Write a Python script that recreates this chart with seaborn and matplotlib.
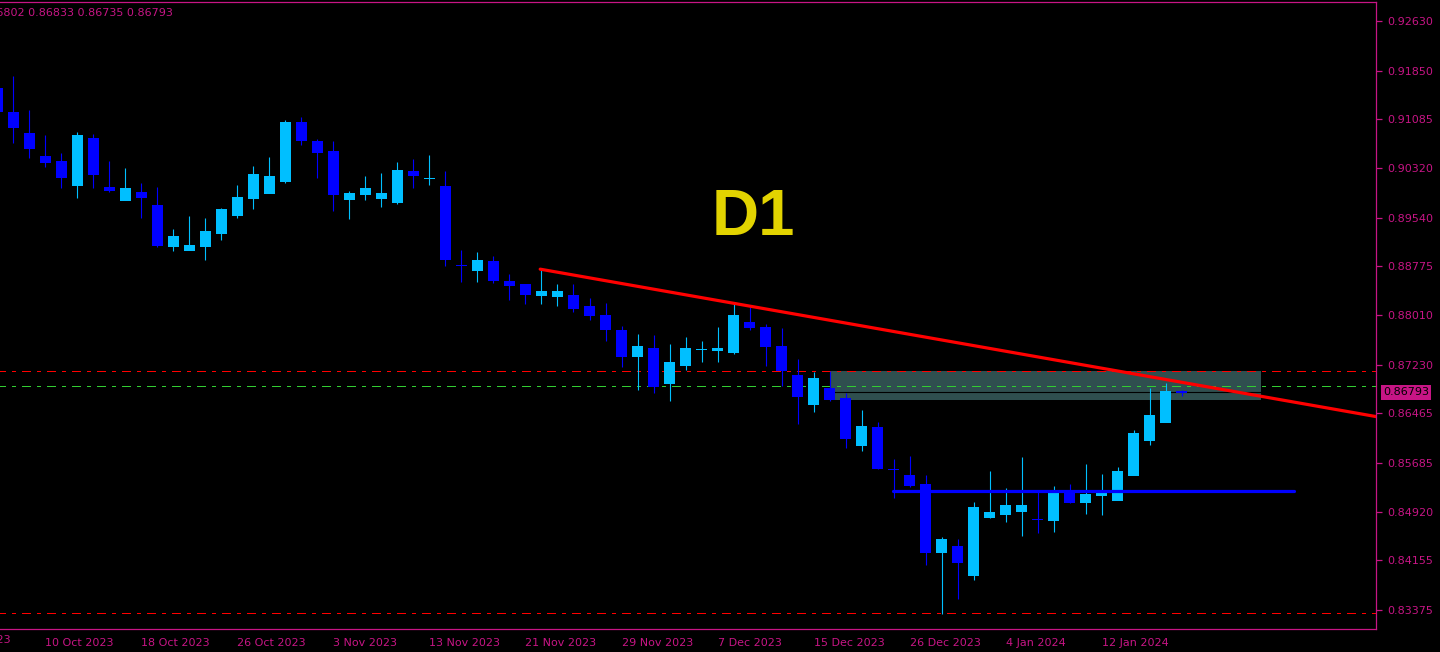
import numpy as np
import pandas as pd
import seaborn as sns
import matplotlib.pyplot as plt
import matplotlib.transforms as mtransforms
from matplotlib.patches import Rectangle

# EURGBP daily candles, 5 Oct 2023 - 19 Jan 2024 (no bars on 25 Dec / 1 Jan)
opens = [0.91574, 0.91196, 0.90866, 0.90505, 0.90426, 0.90049, 0.90788, 0.90017, 0.89813, 0.89939,
         0.89734, 0.89090, 0.89027, 0.89090, 0.89294, 0.89577, 0.89844, 0.89923, 0.90112, 0.91039,
         0.90741, 0.90583, 0.89829, 0.89907, 0.89844, 0.89782, 0.90269, 0.90155, 0.90033, 0.88791,
         0.88713, 0.88854, 0.88540, 0.88493, 0.88320, 0.88304, 0.88320, 0.88147, 0.88005, 0.87769,
         0.87361, 0.87486, 0.86936, 0.87219, 0.87466, 0.87455, 0.87424, 0.87895, 0.87817, 0.87518,
         0.87062, 0.86606, 0.86858, 0.86700, 0.85962, 0.86245, 0.85588, 0.85490, 0.85349, 0.84280,
         0.84374, 0.83918, 0.84830, 0.84877, 0.84924, 0.84796, 0.84783, 0.85239, 0.85066, 0.85176,
         0.85097, 0.85490, 0.86040, 0.86323, 0.86802]
highs = [0.91699, 0.91762, 0.91228, 0.90835, 0.90552, 0.90882, 0.90851, 0.90426, 0.90316, 0.90080,
         0.90017, 0.89357, 0.89562, 0.89530, 0.89687, 0.90049, 0.90348, 0.90489, 0.91071, 0.91118,
         0.90772, 0.90741, 0.89955, 0.90190, 0.90237, 0.90410, 0.90458, 0.90520, 0.90269, 0.89027,
         0.88996, 0.88933, 0.88650, 0.88493, 0.88713, 0.88493, 0.88493, 0.88272, 0.88194, 0.87832,
         0.87707, 0.87691, 0.87549, 0.87659, 0.87597, 0.87817, 0.88178, 0.88131, 0.87864, 0.87801,
         0.87314, 0.87109, 0.87125, 0.86779, 0.86512, 0.86323, 0.85742, 0.85789, 0.85490, 0.84515,
         0.84484, 0.85066, 0.85553, 0.85286, 0.85773, 0.85223, 0.85317, 0.85349, 0.85663, 0.85506,
         0.85616, 0.86197, 0.86858, 0.86936, 0.86833]
lows = [0.91149, 0.90709, 0.90473, 0.90332, 0.90002, 0.89844, 0.90002, 0.89939, 0.89813, 0.89530,
        0.89074, 0.89011, 0.89027, 0.88870, 0.89184, 0.89530, 0.89671, 0.89923, 0.90080, 0.90678,
        0.90159, 0.89640, 0.89514, 0.89813, 0.89703, 0.89750, 0.90002, 0.90049, 0.88776, 0.88524,
        0.88524, 0.88508, 0.88241, 0.88178, 0.88178, 0.88147, 0.88052, 0.87927, 0.87597, 0.87188,
        0.86826, 0.86779, 0.86653, 0.87141, 0.87266, 0.87266, 0.87392, 0.87769, 0.87204, 0.86889,
        0.86292, 0.86480, 0.86653, 0.85914, 0.85867, 0.85584, 0.85128, 0.85301, 0.84075, 0.83305,
        0.83541, 0.83839, 0.84814, 0.84751, 0.84531, 0.84578, 0.84594, 0.85050, 0.84877, 0.84861,
        0.85097, 0.85490, 0.85962, 0.86323, 0.86735]
closes = [0.91212, 0.90961, 0.90630, 0.90410, 0.90175, 0.90835, 0.90222, 0.89970, 0.90002, 0.89860,
          0.89106, 0.89247, 0.89106, 0.89326, 0.89671, 0.89860, 0.90222, 0.90190, 0.91039, 0.90756,
          0.90568, 0.89907, 0.89923, 0.90002, 0.89923, 0.90285, 0.90206, 0.90158, 0.88886, 0.88788,
          0.88870, 0.88555, 0.88477, 0.88335, 0.88383, 0.88383, 0.88115, 0.88005, 0.87785, 0.87361,
          0.87518, 0.86889, 0.87266, 0.87486, 0.87469, 0.87486, 0.88005, 0.87817, 0.87518, 0.87141,
          0.86732, 0.87015, 0.86685, 0.86072, 0.86260, 0.85600, 0.85585, 0.85333, 0.84280, 0.84484,
          0.84122, 0.84987, 0.84908, 0.85018, 0.85018, 0.84793, 0.85207, 0.85066, 0.85191, 0.85254,
          0.85553, 0.86150, 0.86433, 0.86802, 0.86793]

price_ticks = [0.92630, 0.91850, 0.91085, 0.90320, 0.89540, 0.88775, 0.88010,
               0.87230, 0.86465, 0.85685, 0.84920, 0.84155, 0.83375]

# drawn objects on the chart
zone_top, zone_bottom = 0.87136, 0.86674
zone_bars = (52.04, 78.98)
resist_level = 0.87136
green_level = 0.86900
low_level = 0.83321
support_level = 0.85239
support_bars = (55.98, 81.04)
trend_x = [33.92, 86.2]
trend_y = [0.88730, 0.86410]

dates = pd.bdate_range("2023-10-05", "2024-01-19")
dates = dates[~dates.isin(pd.to_datetime(["2023-12-25", "2024-01-01"]))]

pink = "#C71585"
bull, bear = "#00BFFF", "#0000FF"

sns.set_theme(style="dark", rc={"axes.facecolor": "black", "figure.facecolor": "black",
                                "axes.grid": False})
plt.rcParams["font.family"] = ["DejaVu Sans"]

fig = plt.figure(figsize=(14.4, 6.52), dpi=100)
ax = fig.add_axes([0, 0.0357, 0.9559, 0.9608])

x = np.arange(len(opens))
o, h, l, c = map(np.array, (opens, highs, lows, closes))
cols = [bull if cc > oo else bear for oo, cc in zip(o, c)]

# zone rectangle sits behind everything
ax.add_patch(Rectangle((zone_bars[0], zone_bottom), zone_bars[1] - zone_bars[0],
                       zone_top - zone_bottom, color="#2F4F4F", lw=0, zorder=1))
ax.plot(zone_bars, [closes[-1]] * 2, color="black", lw=0.8, zorder=1.5)

# MT4 style dash-dot levels, 1px wide: dash 9, gap 6, dot 3, gap 6 (px)
dd = (3, (9, 6, 3, 6))
for lvl, col in [(resist_level, "#FF0000"), (green_level, "#32CD32"), (low_level, "#FF0000")]:
    ax.axhline(lvl, color=col, lw=0.72, ls=dd, antialiased=False, zorder=2)

# candles
ax.vlines(x, l, h, colors=cols, lw=0.8, zorder=3)
body = np.abs(c - o) + 0.00016
ax.bar(x, body, bottom=np.minimum(o, c) - 0.00008, width=0.69, color=cols, lw=0, zorder=3)

ax.plot(support_bars, [support_level] * 2, color="#0000FF", lw=2.3, zorder=4)
trend = pd.DataFrame({"bar": trend_x, "price": trend_y})
sns.lineplot(data=trend, x="bar", y="price", color="#FF0000", lw=2.3, ax=ax, zorder=5)

ax.set_xlim(0.169, 86.17)
ax.set_ylim(0.83077, 0.92926)
ax.set_xlabel("")
ax.set_ylabel("")

# axes styling in MT4 colours
for side in ["top", "right", "bottom"]:
    ax.spines[side].set_color(pink)
    ax.spines[side].set_linewidth(0.9)
ax.spines["left"].set_visible(False)

ax.yaxis.tick_right()
ax.set_yticks(price_ticks)
ax.set_yticklabels([f"{p:.5f}" for p in price_ticks])
tick_pos = list(range(3, len(dates), 6))
ax.set_xticks(tick_pos)
ax.set_xticklabels([f"{dates[i].day} {dates[i]:%b %Y}" for i in tick_pos], ha="left")
ax.tick_params(axis="both", direction="out", length=4, width=0.9, color=pink,
               labelcolor=pink, labelsize=8, pad=2)
ax.tick_params(axis="x", pad=3)
ax.tick_params(axis="y", pad=4)

# label of the date before the first visible bar, cut by the window edge
trans_x = mtransforms.blended_transform_factory(ax.transData, ax.transAxes)
ax.text(-3, -0.0095, "2 Oct 2023", transform=trans_x, ha="left", va="top",
        fontsize=8, color=pink, clip_on=False)

# current price box
trans_y = mtransforms.blended_transform_factory(ax.transAxes, ax.transData)
ax.text(1.0047, closes[-1], f"{closes[-1]:.5f}", transform=trans_y, ha="left", va="center",
        fontsize=8, color="black", clip_on=False,
        bbox=dict(boxstyle="square,pad=0.2", fc=pink, ec="none"))

header = "EURGBP,Daily  " + " ".join(f"{v:.5f}" for v in (opens[-1], highs[-1], lows[-1], closes[-1]))
fig.text(173 / 1440, 1 - 12.7 / 652, header, ha="right", va="center", fontsize=8, color=pink)

fig.text(753 / 1440, 1 - 218 / 652, "D1", ha="center", va="center", fontsize=47,
         fontweight="bold", family=["Liberation Sans", "DejaVu Sans"], color="#E2D300")

fig.savefig("out.png", dpi=100, facecolor="black")
